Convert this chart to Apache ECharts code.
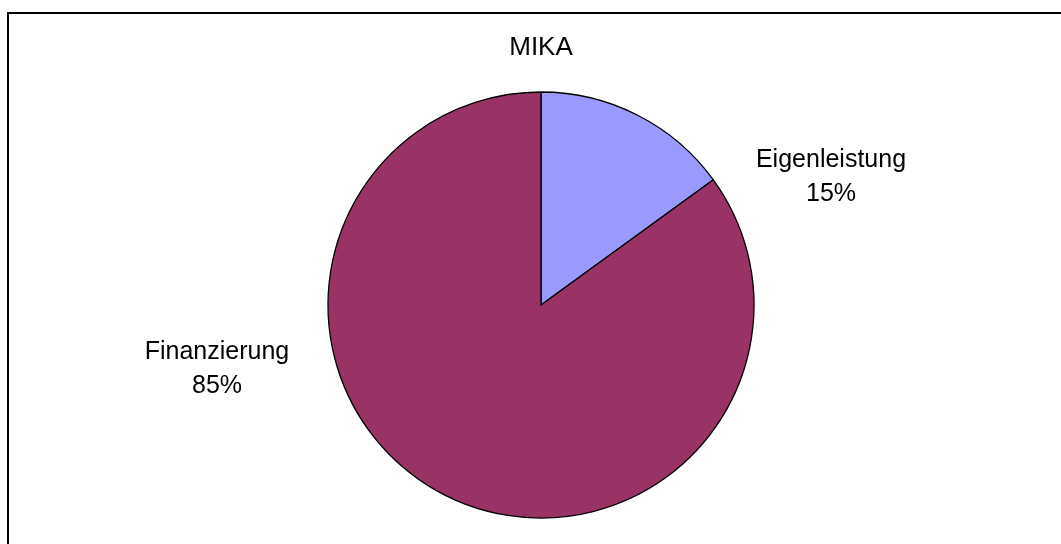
<!DOCTYPE html>
<html><head><meta charset="utf-8">
<script src="https://cdn.jsdelivr.net/npm/echarts@6/dist/echarts.min.js"></script>
<style>html,body{margin:0;padding:0;background:#fff}#c{width:1061px;height:544px}</style>
</head><body><div id="c"></div>
<script>
const title = 'MIKA';
const categories = ['Eigenleistung', 'Finanzierung'];
const values = [15, 85];
const colors = ['#9999FF', '#993366'];
const labelPos = [[831, 177], [217, 369]];

const chart = echarts.init(document.getElementById('c'), null, {renderer: 'canvas'});
chart.setOption({
  animation: false,
  backgroundColor: '#ffffff',
  graphic: [{
    type: 'rect', shape: {x: 8, y: 13, width: 3000, height: 3000},
    style: {fill: 'none', stroke: '#000', lineWidth: 2}, silent: true
  }, {
    type: 'text', x: 541, y: 48,
    style: {text: title, fill: '#000', font: '26px "Liberation Sans", Arial, sans-serif',
            textAlign: 'center', textVerticalAlign: 'middle'},
    silent: true
  }],
  series: [{
    type: 'pie',
    center: [541, 305],
    radius: [0, 213],
    startAngle: 90,
    clockwise: true,
    data: categories.map((c, i) => ({name: c, value: values[i], itemStyle: {color: colors[i]}})),
    itemStyle: {borderColor: '#000', borderWidth: 1.3},
    label: {
      show: true, position: 'outside',
      formatter: '{b}\n{d}%',
      fontFamily: 'Liberation Sans, Arial, sans-serif', fontSize: 25, lineHeight: 34,
      color: '#000', align: 'center'
    },
    labelLine: {show: false},
    labelLayout: function (p) {
      const pos = labelPos[p.dataIndex];
      return {x: pos[0], y: pos[1], align: 'center', verticalAlign: 'middle'};
    },
    emphasis: {disabled: true}
  }]
});
</script></body></html>
